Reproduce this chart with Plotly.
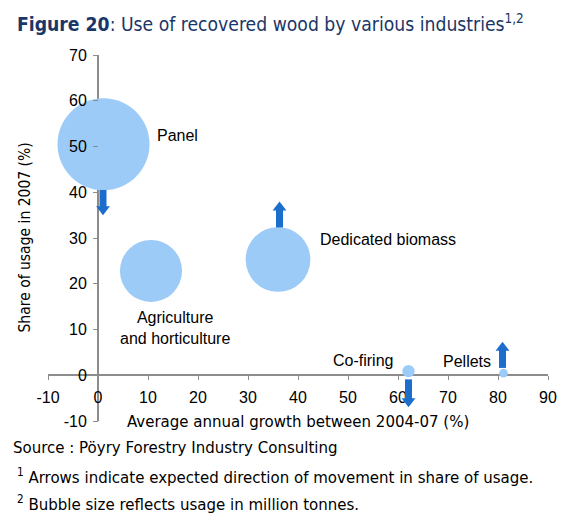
"""Bubble chart: use of recovered wood by various industries."""

import plotly.graph_objects as go

# Data
industries = ["Panel", "Agriculture and horticulture", "Dedicated biomass", "Co-firing", "Pellets"]
growth_pct = [1.1, 10.6, 36.0, 62.1, 81.1]  # average annual growth 2004-07 (%)
share_2007 = [50.5, 22.8, 25.3, 0.9, 0.45]  # share of usage in 2007 (%)
usage_mt = [10.1, 4.6, 5.0, 0.18, 0.09]  # usage in million tonnes (bubble size)

# Expected direction of movement (arrows): x, tail y, head y
arrow_x = [1.0, 36.3, 62.1, 80.9]
arrow_tail_y = [40.5, 32.3, -0.9, 1.6]
arrow_head_y = [35.0, 38.0, -7.0, 7.3]

# Bubble labels
label_text = ["Panel", "Dedicated biomass", "Agriculture<br>and horticulture", "Co-firing", "Pellets"]
label_x = [11.3, 44.0, 15.3, 59.3, 78.9]
label_y = [52.3, 29.7, 10.4, 3.3, 2.9]
label_anchor = ["left", "left", "center", "right", "right"]

x_range = [-10, 90]
y_range = [-10, 70]
x_ticks = list(range(-10, 91, 10))
y_ticks = list(range(-10, 71, 10))

BUBBLE = "#9DCBF8"
ARROW = "#1C6ECD"
NAVY = "#1B3668"
AXIS_GREY = "#8C8C8C"
CHART_FONT = "Liberation Sans, Arial, sans-serif"
TEXT_FONT = "DejaVu Sans Condensed, DejaVu Sans, sans-serif"

# Page body adds an 8px margin, so the figure is 8px smaller than the window
WIDTH, HEIGHT = 564, 516
MARGIN = dict(l=40, r=24, t=47, b=103)
plot_h = HEIGHT - MARGIN["t"] - MARGIN["b"]
y_per_px = (y_range[1] - y_range[0]) / plot_h

fig = go.Figure()

max_diameter = 92
fig.add_trace(
    go.Scatter(
        x=growth_pct,
        y=share_2007,
        mode="markers",
        marker=dict(
            size=usage_mt,
            sizemode="area",
            sizeref=2.0 * max(usage_mt) / max_diameter**2,
            color=BUBBLE,
            opacity=1,
            line=dict(width=0),
        ),
        text=industries,
        hovertemplate="%{text}<br>Growth: %{x}%<br>Share: %{y}%<extra></extra>",
        showlegend=False,
    )
)

# Block arrows: thick shaft plus triangle head
head_size = 12
for ax_, tail, head in zip(arrow_x, arrow_tail_y, arrow_head_y):
    d = 1 if head > tail else -1
    fig.add_trace(
        go.Scatter(
            x=[ax_, ax_],
            y=[tail, head - d * 7 * y_per_px],
            mode="lines",
            line=dict(color=ARROW, width=7),
            hoverinfo="skip",
            showlegend=False,
        )
    )
    fig.add_trace(
        go.Scatter(
            x=[ax_],
            y=[head - d * (head_size / 2) * y_per_px],
            mode="markers",
            marker=dict(
                symbol="triangle-up" if d > 0 else "triangle-down",
                size=head_size,
                color=ARROW,
                line=dict(width=0),
            ),
            hoverinfo="skip",
            showlegend=False,
        )
    )

for txt, lx, ly, anc in zip(label_text, label_x, label_y, label_anchor):
    fig.add_annotation(
        x=lx,
        y=ly,
        xref="x",
        yref="y",
        text=txt,
        showarrow=False,
        xanchor=anc,
        yanchor="middle",
        align="center",
        font=dict(family=CHART_FONT, size=16, color="black"),
    )

# Axis titles, chart title and footnotes
fig.add_annotation(
    x=0.5, y=0.0, xref="paper", yref="paper",
    text="Average annual growth between 2004-07 (%)",
    showarrow=False, xanchor="center", yanchor="middle",
    font=dict(family=TEXT_FONT, size=16.7, color="black"),
)
fig.add_annotation(
    x=-0.047, y=0.5, xref="paper", yref="paper",
    text="Share of usage in 2007 (%)", textangle=-90,
    showarrow=False, xanchor="center", yanchor="middle",
    font=dict(family=TEXT_FONT, size=15.5, color="black"),
)
fig.add_annotation(
    x=-0.066, y=1.087, xref="paper", yref="paper",
    text="<b>Figure 20</b>: Use of recovered wood by various industries<sup>1,2</sup>",
    showarrow=False, xanchor="left", yanchor="middle",
    font=dict(family=TEXT_FONT, size=19.2, color=NAVY),
)
footnotes = [
    "Source : Pöyry Forestry Industry Consulting",
    "<sup>1</sup> Arrows indicate expected direction of movement in share of usage.",
    "<sup>2</sup> Bubble size reflects usage in million tonnes.",
]
footnote_y = [-0.071, -0.150, -0.224]
footnote_x = [-0.075, -0.066, -0.066]
for txt, fx, fy in zip(footnotes, footnote_x, footnote_y):
    fig.add_annotation(
        x=fx, y=fy, xref="paper", yref="paper",
        text=txt, showarrow=False, xanchor="left", yanchor="middle",
        font=dict(family=TEXT_FONT, size=16.7, color="black"),
    )

fig.update_layout(
    width=WIDTH,
    height=HEIGHT,
    margin=MARGIN,
    plot_bgcolor="white",
    paper_bgcolor="white",
    showlegend=False,
)

x_pos = (0 - y_range[0]) / (y_range[1] - y_range[0])
y_pos = (0 - x_range[0]) / (x_range[1] - x_range[0])

fig.update_xaxes(
    range=x_range,
    tickvals=x_ticks,
    ticktext=[str(v) for v in x_ticks],
    anchor="free",
    position=x_pos,
    layer="below traces",
    showline=False,
    showgrid=False,
    zeroline=True,
    zerolinecolor=AXIS_GREY,
    zerolinewidth=1.5,
    ticks="outside",
    ticklen=4,
    tickwidth=1.2,
    tickcolor=AXIS_GREY,
    ticklabelstandoff=4,
    tickfont=dict(family=CHART_FONT, size=16, color="black"),
)
fig.update_yaxes(
    range=y_range,
    tickvals=y_ticks,
    ticktext=[str(v) for v in y_ticks],
    anchor="free",
    position=y_pos,
    layer="above traces",
    showline=False,
    showgrid=False,
    zeroline=True,
    zerolinecolor=AXIS_GREY,
    zerolinewidth=1.5,
    ticks="outside",
    ticklen=5,
    tickwidth=1.2,
    tickcolor=AXIS_GREY,
    ticklabelstandoff=3,
    tickfont=dict(family=CHART_FONT, size=16, color="black"),
)

fig.write_html("out.html")
